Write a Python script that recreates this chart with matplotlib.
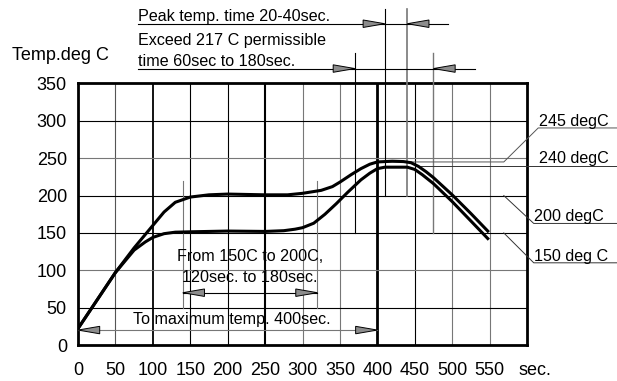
import matplotlib
matplotlib.use("Agg")
import matplotlib.pyplot as plt
from matplotlib.patches import Polygon

plt.rcParams['font.family'] = ['Liberation Sans', 'DejaVu Sans']

# reflow profile
time_200 = [0, 50, 75, 100, 115, 130, 150, 175, 200, 250, 280, 300, 325, 340, 350,
            365, 378, 390, 400, 420, 435, 445, 455, 465, 475, 500, 525, 549]
temp_200 = [22, 97, 130, 160, 178, 191, 198, 201, 202, 201, 201, 203, 207, 212, 218,
            228, 236, 242, 245, 246, 245.5, 244, 239, 232, 224, 201, 176, 151]

time_150 = [0, 50, 75, 90, 100, 115, 130, 150, 200, 250, 275, 290, 300, 315, 330,
            345, 360, 378, 390, 400, 410, 440, 450, 460, 475, 500, 525, 549]
temp_150 = [22, 97, 127, 138, 144, 149, 151, 151.5, 152.5, 152, 153, 155, 157, 163, 175,
            189, 204, 221, 230, 236, 238, 238, 235, 228, 216, 192, 166, 141]

x_ticks = [0, 50, 100, 150, 200, 250, 300, 350, 400, 450, 500, 550]
y_ticks = [0, 50, 100, 150, 200, 250, 300, 350]

# grid colours per line (the drawing mixes black and grey rules)
v_grid = {50: '#555555', 100: 'black', 150: 'black', 200: 'black', 250: 'black',
          300: '#777777', 350: '#777777', 400: 'black', 450: 'black',
          500: '#777777', 550: '#777777'}
v_width = {100: 1.3, 250: 1.5, 400: 2.0}
h_grid = {50: 'black', 100: '#777777', 150: 'black', 200: 'black',
          250: '#777777', 300: 'black'}

fig = plt.figure(figsize=(6.17, 3.81), dpi=100)
ax = fig.add_axes([78 / 617, 1 - 345 / 381, (527 - 78) / 617, (345 - 83.5) / 381])
ax.set_xlim(0, 600)
ax.set_ylim(0, 350)

for x, c in v_grid.items():
    ax.axvline(x, color=c, lw=v_width.get(x, 0.8), zorder=1)
for y, c in h_grid.items():
    ax.axhline(y, color=c, lw=0.8, zorder=1)

for s in ax.spines.values():
    s.set_linewidth(2.0)

ax.set_xticks(x_ticks)
ax.set_yticks(y_ticks)
ax.tick_params(length=0, labelsize=13)
ax.tick_params(axis='x', pad=12)
ax.tick_params(axis='y', pad=8)
# "sec." sits on the same row as the x tick labels
ax.annotate("sec.", xy=(589, 0), xycoords='data', xytext=(0, -12),
            textcoords='offset points', fontsize=13, ha='left', va='top',
            annotation_clip=False)
fig.text(12 / 617, 1 - 55 / 381, "Temp.deg C", fontsize=13, ha='left', va='center')

ax.plot(time_200, temp_200, color='black', lw=2.2, zorder=4, solid_capstyle='butt')
ax.plot(time_150, temp_150, color='black', lw=2.2, zorder=4, solid_capstyle='butt')


def line(xs, ys, color='black', lw=0.8):
    ax.plot(xs, ys, color=color, lw=lw, clip_on=False, zorder=3)


def arrow(tip, y, d):
    L, h = 29, 5
    pts = [(tip, y), (tip - d * L, y + h), (tip - d * L, y - h)]
    ax.add_patch(Polygon(pts, closed=True, facecolor='#8c8c8c', edgecolor='black',
                         lw=0.7, clip_on=False, zorder=5))


# marker lines
line([140, 140], [50, 220], '#777777')
line([320, 320], [50, 220], '#777777')
line([370, 370], [150, 391], 'black')
line([475, 475], [150, 391], '#777777', 1.0)
line([410, 410], [200, 450], 'black')
line([440, 440], [200, 450], '#777777', 1.2)

# dimension rows
line([80.6, 495], [430, 430])
arrow(410, 430, 1)
arrow(440, 430, -1)
line([80.6, 530], [370, 370])
arrow(370, 370, 1)
arrow(475, 370, -1)
line([140, 320], [70, 70])
arrow(140, 70, -1)
arrow(320, 70, 1)
line([0, 400], [20, 20], '#777777')
arrow(0, 20, -1)
arrow(400, 20, 1)

ax.text(80.6, 434, "Peak temp. time 20-40sec.", fontsize=11.6, ha='left', va='baseline')
ax.text(80.6, 401, "Exceed 217 C permissible", fontsize=11.6, ha='left', va='baseline')
ax.text(80.6, 373.5, "time 60sec to 180sec.", fontsize=11.6, ha='left', va='baseline')
ax.text(230, 119, "From 150C to 200C,", fontsize=11.6, ha='center', va='center')
ax.text(230, 91, "120sec. to 180sec.", fontsize=11.6, ha='center', va='center')
ax.text(205, 33.5, "To maximum temp. 400sec.", fontsize=11.6, ha='center', va='center')

# right hand labels with leaders
line([400, 569, 615, 721], [245, 245, 290.5, 290.5], '#555555', 0.7)
ax.text(615.5, 293, "245 degC", fontsize=11.6, ha='left', va='baseline')
line([450, 721], [239.5, 239.5], '#333333', 0.7)
ax.text(615.5, 243, "240 degC", fontsize=11.6, ha='left', va='baseline')
line([569, 609, 721], [200, 162.7, 162.7], '#333333', 0.7)
ax.text(609.5, 165.5, "200 degC", fontsize=11.6, ha='left', va='baseline')
line([569, 609, 721], [150, 110, 110], '#333333', 0.7)
ax.text(609.5, 113, "150 deg C", fontsize=11.6, ha='left', va='baseline')

fig.savefig("out.png", dpi=100)
